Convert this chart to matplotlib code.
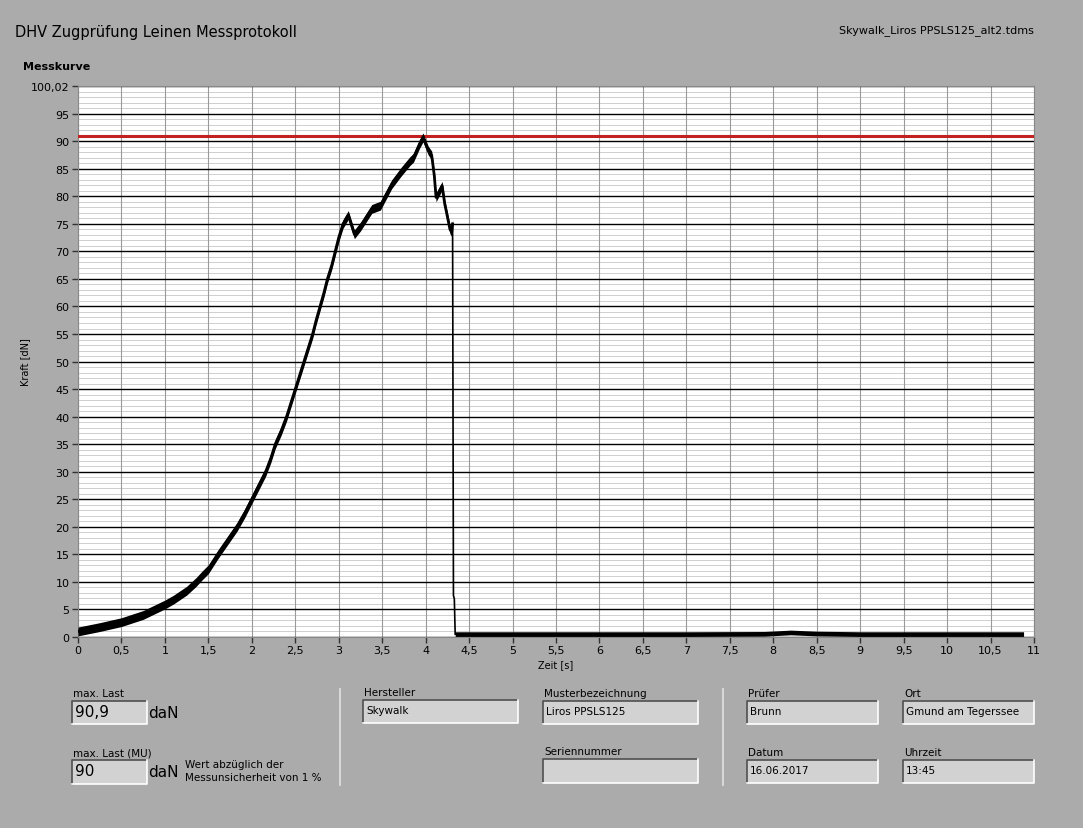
import matplotlib.pyplot as plt
from matplotlib.patches import Rectangle

t_rise = [0, 0.25, 0.5, 0.75, 1.0, 1.1, 1.25, 1.36, 1.43, 1.5, 1.61, 1.72, 1.83,
          1.92, 2.0, 2.08, 2.16, 2.22, 2.27, 2.34, 2.40, 2.45, 2.50, 2.55, 2.60,
          2.65, 2.70, 2.74, 2.785, 2.83, 2.87, 2.92, 2.96, 3.0, 3.05, 3.11, 3.18,
          3.25, 3.38, 3.48, 3.61, 3.72, 3.82, 3.86, 3.93, 3.97, 4.03, 4.07, 4.10,
          4.12, 4.19, 4.22, 4.24, 4.28, 4.30, 4.31]
f_rise = [1.0, 1.8, 2.7, 4.0, 5.9, 6.8, 8.4, 10, 11.2, 12.3, 15, 17.5, 20,
          22.5, 25, 27.5, 30, 32.5, 35, 37.5, 40, 42.5, 45, 47.5, 50,
          52.5, 55, 57.5, 60, 62.5, 65, 67.5, 70, 72.5, 75, 76.6, 73.1,
          74.5, 77.7, 78.3, 82.2, 84.5, 86.4, 87, 89.5, 90.7, 88.3, 87.4, 83.7,
          79.8, 81.9, 78.6, 77.1, 74, 73.5, 75]
t_drop = [4.31, 4.32, 4.33, 4.34]
f_drop = [75, 7.5, 7.0, 0.5]
t_tail = [4.34, 5.0, 6.0, 7.0, 7.9, 8.2, 8.5, 9.0, 10.0, 10.88]
f_tail = [0.5, 0.5, 0.5, 0.5, 0.55, 0.8, 0.6, 0.5, 0.5, 0.5]
max_last = 90.9

x_ticks = [i * 0.5 for i in range(23)]
y_ticks = list(range(0, 100, 5)) + [100.02]


def fmt(v):
    return ("%g" % v).replace(".", ",")


bg = "#ABABAB"
fig = plt.figure(figsize=(10.83, 8.29), dpi=100, facecolor=bg)

# overlay in pixel coordinates for the panel elements
ov = fig.add_axes([0, 0, 1, 1])
ov.set_xlim(0, 1083)
ov.set_ylim(829, 0)
ov.axis("off")

ax = fig.add_axes([78 / 1083, 1 - 638 / 829, 956 / 1083, 551 / 829])
ax.set_facecolor("white")

# grid
for y in range(0, 101):
    if y % 5 == 0:
        ax.axhline(y, color="black", lw=1.0, zorder=1)
    else:
        ax.axhline(y, color="#CFCFCF", lw=0.7, zorder=0.5)
for x in x_ticks:
    ax.axvline(x, color="#9A9A9A", lw=0.8, zorder=0.6)

# limit line
ax.axhline(max_last, color="#C42020", lw=2.2, zorder=3)

# curve (noisy thick band)
ax.fill_between(t_rise, [f - 0.8 for f in f_rise], [f + 0.8 for f in f_rise],
                color="black", lw=0, zorder=4)
ax.plot(t_rise, f_rise, color="black", lw=2.0, zorder=4)
ax.plot(t_drop, f_drop, color="black", lw=1.2, zorder=4)
ax.fill_between(t_tail, [f - 0.4 for f in f_tail], [f + 0.45 for f in f_tail],
                color="black", lw=0, zorder=4)

ax.set_xlim(0, 11)
ax.set_ylim(0, 100.02)
ax.set_xticks(x_ticks)
ax.set_xticklabels([fmt(v) for v in x_ticks])
ax.set_yticks(y_ticks)
ax.set_yticklabels([fmt(v) for v in y_ticks])
ax.tick_params(direction="out", length=4, width=1, color="#333333",
               labelsize=8, pad=2)
for s in ax.spines.values():
    s.set_color("#888888")
    s.set_linewidth(0.8)

ax.set_xlabel("Zeit [s]", fontsize=7, labelpad=3)
ax.set_ylabel("Kraft [dN]", fontsize=7)
ax.yaxis.set_label_coords(-0.05, 0.5)

# header texts
ov.text(15, 32, "DHV Zugprüfung Leinen Messprotokoll", fontsize=10.5,
        va="center", ha="left")
ov.text(839, 31, "Skywalk_Liros PPSLS125_alt2.tdms", fontsize=8,
        va="center", ha="left")
ov.text(23, 67, "Messkurve", fontsize=8, fontweight="bold",
        va="center", ha="left")


def field(x0, y0, x1, y1, label, value="", size=7.5):
    ov.add_patch(Rectangle((x0, y0), x1 - x0, y1 - y0, facecolor="#D2D2D2",
                           edgecolor="none"))
    ov.plot([x0, x0, x1], [y1, y0, y0], color="#505050", lw=1.2)
    ov.plot([x0, x1, x1], [y1, y1, y0], color="white", lw=1.2)
    ov.text(x0 + 1, y0 - 8, label, fontsize=7.5, va="center", ha="left")
    if value:
        ov.text(x0 + 3, y0 + (y1 - y0) * 0.45, value, fontsize=size,
                va="center", ha="left")


field(72, 702, 147, 725, "max. Last", fmt(max_last), size=11)
ov.text(148, 714, "daN", fontsize=11, va="center", ha="left")
field(72, 761, 147, 785, "max. Last (MU)", "90", size=11)
ov.text(148, 773, "daN", fontsize=11, va="center", ha="left")
ov.text(185, 765, "Wert abzüglich der", fontsize=7.5, va="center", ha="left")
ov.text(185, 778, "Messunsicherheit von 1 %", fontsize=7.5, va="center",
        ha="left")

ov.plot([339.5, 339.5], [690, 786], color="#DDDDDD", lw=1.3)
ov.plot([723, 723], [690, 786], color="#DDDDDD", lw=1.3)

field(363, 701, 518, 724, "Hersteller", "Skywalk")
field(543, 702, 698, 725, "Musterbezeichnung", "Liros PPSLS125")
field(543, 760, 698, 784, "Seriennummer")
field(747, 702, 878, 725, "Prüfer", "Brunn")
field(903, 702, 1034, 725, "Ort", "Gmund am Tegerssee")
field(747, 761, 878, 784, "Datum", "16.06.2017")
field(903, 761, 1034, 784, "Uhrzeit", "13:45")

fig.savefig("out.png", dpi=100, facecolor=bg)
